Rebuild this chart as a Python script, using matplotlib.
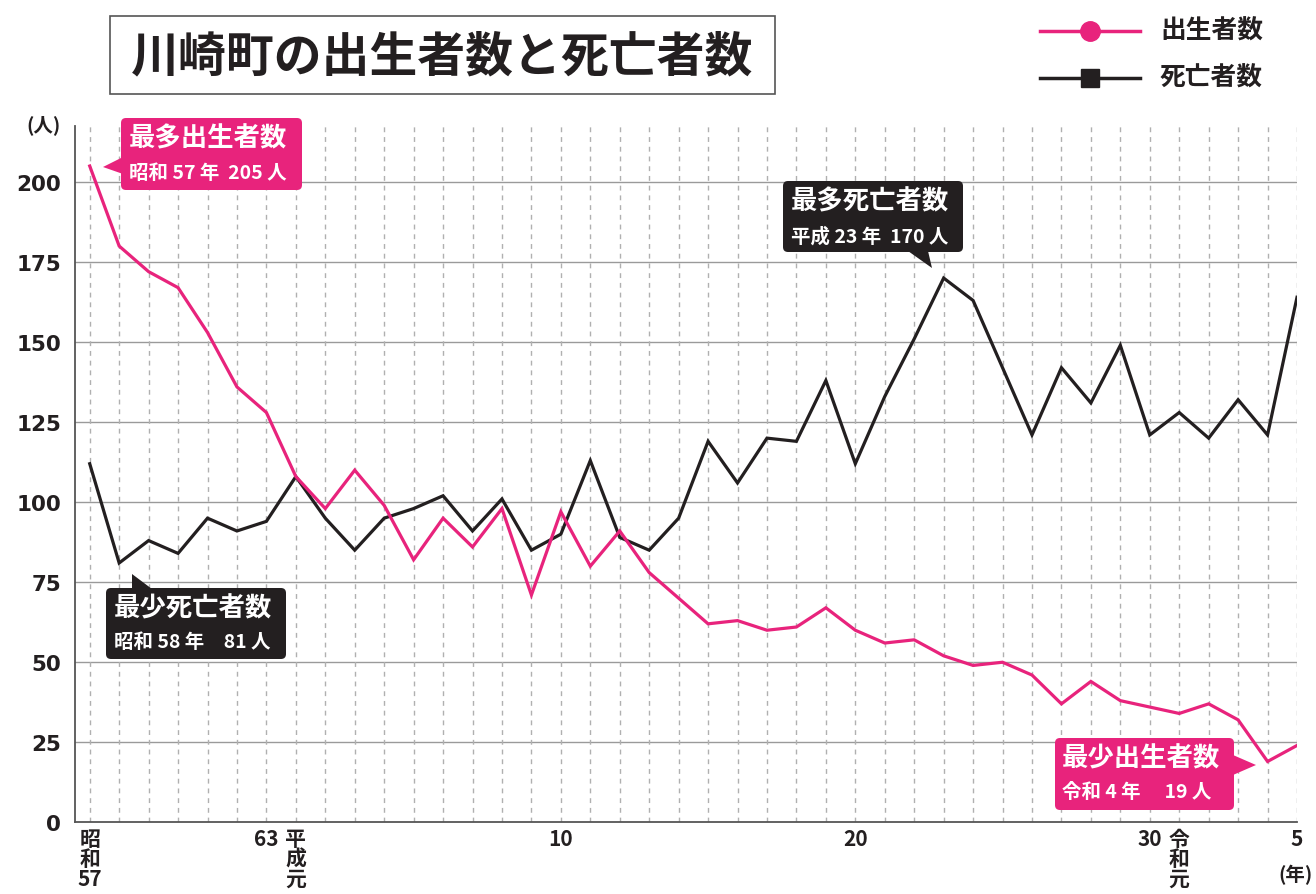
import matplotlib
matplotlib.use("Agg")
import matplotlib.pyplot as plt
from matplotlib.patches import FancyBboxPatch, Polygon, Rectangle
from matplotlib.lines import Line2D

plt.rcParams['font.family'] = ['Noto Sans CJK JP', 'DejaVu Sans']

# ---- data ----
years = list(range(1982, 2024))
births = [205, 180, 172, 167, 153, 136, 128, 108, 98, 110, 99, 82, 95, 86, 98, 71,
          97, 80, 91, 78, 70, 62, 63, 60, 61, 67, 60, 56, 57, 52, 49, 50, 46, 37,
          44, 38, 36, 34, 37, 32, 19, 24]
deaths = [112, 81, 88, 84, 95, 91, 94, 108, 95, 85, 95, 98, 102, 91, 101, 85,
          90, 113, 89, 85, 95, 119, 106, 120, 119, 138, 112, 133, 151, 170, 163, 142,
          121, 142, 131, 149, 121, 128, 120, 132, 121, 164]
tick_years = [1982, 1988, 1989, 1998, 2008, 2018, 2019, 2023]
tick_labels = ['昭\n和\n57', '63', '平\n成\n元', '10', '20', '30', '令\n和\n元', '5']
y_ticks = [0, 25, 50, 75, 100, 125, 150, 175, 200]

PINK = '#E8237C'
BLACK = '#231F20'

W, H = 1316, 895
fig = plt.figure(figsize=(W / 100, H / 100), dpi=100)
ax = fig.add_axes([75 / W, 1 - 823.3 / H, (1297 - 75) / W, (823.3 - 127) / H])

# grid
for yv in y_ticks[1:]:
    ax.axhline(yv, color='#9a9a9a', lw=1.0, zorder=1)
for xv in years:
    ax.axvline(xv, color='#b0b0b0', lw=1.0, ls=(0, (3.5, 3.5)), zorder=1)

ax.plot(years, deaths, color=BLACK, lw=2.3, zorder=3, solid_joinstyle='miter')
ax.plot(years, births, color=PINK, lw=2.3, zorder=4, solid_joinstyle='miter')

ax.set_xlim(1981.5, 2023)
ax.set_ylim(0, 217.5)
for s in ['top', 'right']:
    ax.spines[s].set_visible(False)
for s in ['left', 'bottom']:
    ax.spines[s].set_color('#555555')
    ax.spines[s].set_linewidth(1.3)

ax.set_yticks(y_ticks)
ax.set_yticklabels([str(v) for v in y_ticks], fontsize=15.5, fontweight='bold',
                   family='DejaVu Sans', color='#231F20')
ax.set_xticks(tick_years)
ax.set_xticklabels(tick_labels, fontsize=15, fontweight='bold', color='#231F20',
                   linespacing=0.95, va='top')
ax.tick_params(axis='both', length=0)
ax.tick_params(axis='y', pad=10)
ax.tick_params(axis='x', pad=4)

T = fig.dpi_scale_trans


def P(x, y):
    return (x / 100, (H - y) / 100)


fig.text(*P(43, 125), '(人)', transform=T, fontsize=14, fontweight='bold',
         ha='center', va='center', color='#231F20')
fig.text(*P(1295, 875), '(年)', transform=T, fontsize=14, fontweight='bold',
         ha='center', va='center', color='#231F20')

# title box
fig.patches.append(Rectangle(P(110, 95), 665 / 100, 78 / 100, transform=T,
                             fc='white', ec='#555555', lw=1.2))
fig.text(*P(442, 57), '川崎町の出生者数と死亡者数', transform=T, fontsize=34.5,
         fontweight='bold', ha='center', va='center', color='#231F20')

# legend
fig.add_artist(Line2D([10.40, 11.40], [P(0, 32)[1]] * 2, transform=T, color=PINK, lw=2.5))
fig.add_artist(Line2D([10.90], [P(0, 32)[1]], transform=T, color=PINK, marker='o',
                      markersize=14, ls='none'))
fig.add_artist(Line2D([10.40, 11.40], [P(0, 79)[1]] * 2, transform=T, color=BLACK, lw=2.5))
fig.add_artist(Line2D([10.90], [P(0, 79)[1]], transform=T, color=BLACK, marker='s',
                      markersize=13, ls='none'))
fig.text(*P(1160, 31), '出生者数', transform=T, fontsize=18.5, fontweight='bold',
         ha='left', va='center', color='#231F20')
fig.text(*P(1160, 78), '死亡者数', transform=T, fontsize=18.5, fontweight='bold',
         ha='left', va='center', color='#231F20')


def callout(x0, y0, x1, y1, tail, color, l1, l2, ty1, ty2, tx):
    fig.patches.append(FancyBboxPatch(P(x0, y1), (x1 - x0) / 100, (y1 - y0) / 100,
                                      boxstyle='round,pad=0,rounding_size=0.05',
                                      transform=T, fc=color, ec='none'))
    fig.patches.append(Polygon([P(*p) for p in tail], closed=True, transform=T,
                               fc=color, ec='none'))
    fig.text(*P(tx, ty1), l1, transform=T, fontsize=19, fontweight='bold',
             color='white', ha='left', va='center')
    fig.text(*P(tx, ty2), l2, transform=T, fontsize=14, fontweight='bold',
             color='white', ha='left', va='center')


callout(121, 119, 302, 191, [(123, 158), (123, 175), (103, 168)], PINK,
        '最多出生者数', '昭和 57 年  205 人', 139, 174, 129)
callout(783, 182, 963, 253, [(908, 252), (928, 252), (932, 269)], BLACK,
        '最多死亡者数', '平成 23 年  170 人', 202, 237, 791)
callout(106, 589, 286, 660, [(132, 590), (152, 590), (132, 575)], BLACK,
        '最少死亡者数', '昭和 58 年　81 人', 609, 643, 114)
callout(1055, 739, 1234, 811, [(1233, 756), (1233, 776), (1256, 766)], PINK,
        '最少出生者数', '令和 4 年　 19 人', 759, 793, 1062)

fig.savefig('out.png', dpi=100)
